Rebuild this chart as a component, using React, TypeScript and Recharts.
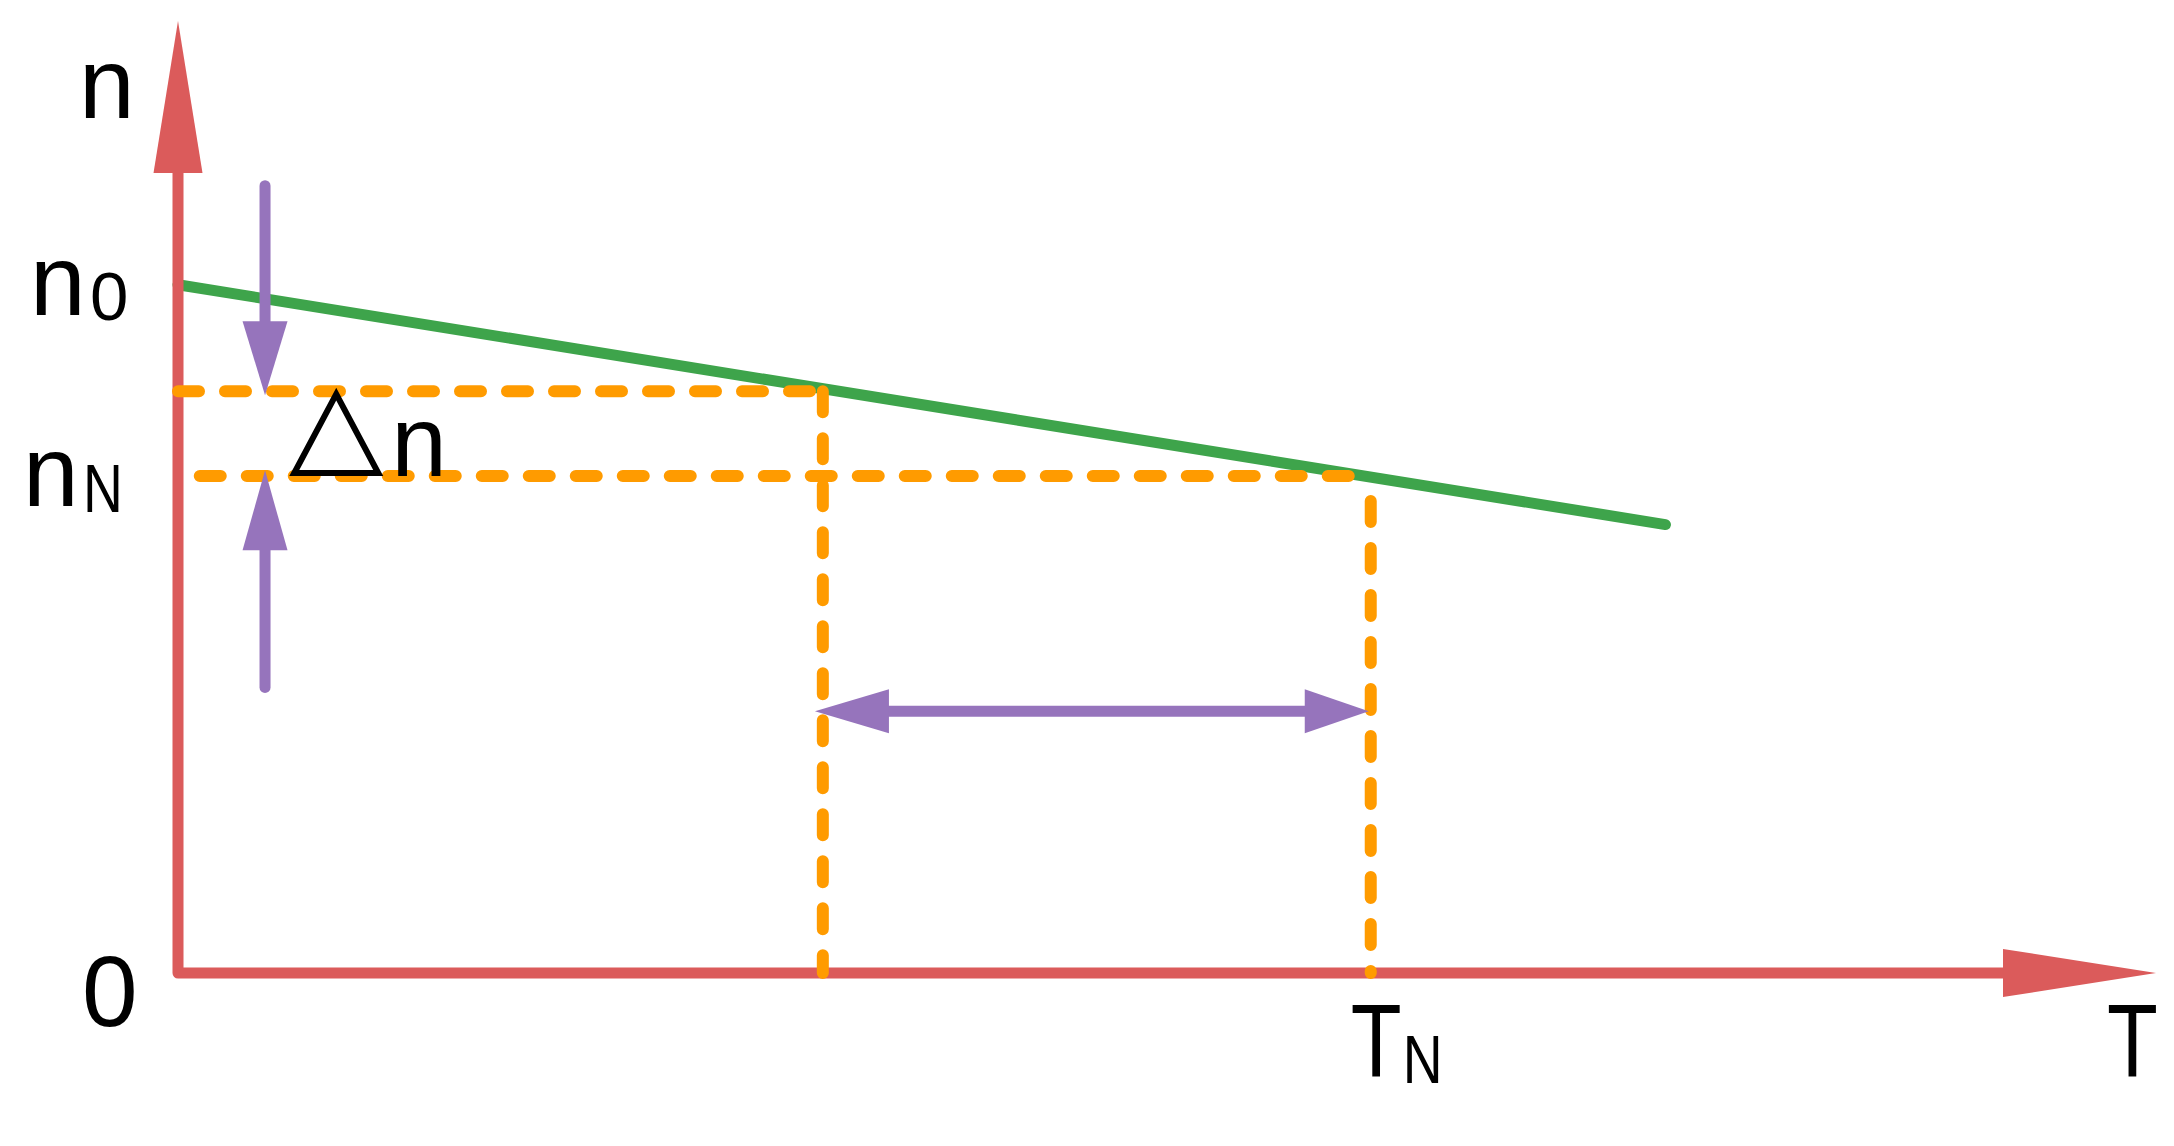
import { ComposedChart, Line, XAxis, YAxis, ReferenceDot } from "recharts";

// speed n against torque T, both in arbitrary units (0..100)
const axisTipT = 100;
const axisTipN = 100;
const axisShaftEnd = [93, 86]; // T, n where the axis shafts disappear under the heads

const curveT = [0, 75.2];
const curveN = [72.3, 47.1];

const guideT = [32.6, 60.3]; // T1, TN
const guideN = [61.1, 52.2]; // n1, nN
const guideStartT = [0, 1.1];
const guideEndT = [33.2, 60.3];

const dnArrowT = 4.4;
const dnTopN = [82.7, 67.5, 60.7]; // tail, shaft end, tip
const dnBottomN = [30.0, 45.2, 52.8];
const spanN = 27.5;
const spanT = [32.2, 35, 58, 60.2]; // left tip, shaft start, shaft end, right tip

const yTickValues = [0, 52.2, 72.3];
const yTickMain = ["0", "n", "n"];
const yTickSub = ["", "N", "0"];
const xTickValues = [60.3];
const xTickMain = ["T"];
const xTickSub = ["N"];
const axisNames = ["T", "n"];
const deltaT = 8.0;

const RED = "#db5b5b";
const GREEN = "#3ea44b";
const ORANGE = "#ff9b00";
const PURPLE = "#9674bc";
const FONT = "Liberation Sans, Arial, sans-serif";

const pts = (ts: number[], ns: number[]) => ts.map((T, i) => ({ T, n: ns[i] }));

type Dir = "up" | "down" | "left" | "right";

// eslint-disable-next-line @typescript-eslint/no-explicit-any
const arrowHead = (dir: Dir, len: number, w: number, fill: string) => (p: any) => {
  const { cx, cy } = p;
  const h = w / 2;
  let q: number[][];
  if (dir === "up") q = [[cx, cy], [cx - h, cy + len], [cx + h, cy + len]];
  else if (dir === "down") q = [[cx, cy], [cx - h, cy - len], [cx + h, cy - len]];
  else if (dir === "right") q = [[cx, cy], [cx - len, cy - h], [cx - len, cy + h]];
  else q = [[cx, cy], [cx + len, cy - h], [cx + len, cy + h]];
  return <polygon points={q.map((a) => a.join(",")).join(" ")} fill={fill} />;
};

// compressed glyphs (T, N) look narrower in the original
const Narrow = ({ x, y, size, children }: { x: number; y: number; size: number; children: string }) => (
  <text transform={`translate(${x},${y}) scale(0.8,1)`} x={0} y={0} fontSize={size} fontFamily={FONT} fill="#000">
    {children}
  </text>
);

// eslint-disable-next-line @typescript-eslint/no-explicit-any
const YTick = (props: any) => {
  const { x, y, payload } = props;
  const i = yTickValues.indexOf(payload.value);
  if (i < 0) return null;
  const main = yTickMain[i];
  const sub = yTickSub[i];
  if (!sub) {
    return (
      <text x={x - 96} y={y + 53} fontSize={100} fontFamily={FONT} fill="#000">
        {main}
      </text>
    );
  }
  const isN = sub === "N";
  return (
    <g>
      <text x={x - (isN ? 155 : 148)} y={y + 30} fontSize={100} fontFamily={FONT} fill="#000">
        {main}
      </text>
      {isN ? (
        <Narrow x={x - 95} y={y + 36} size={69}>{sub}</Narrow>
      ) : (
        <text x={x - 88} y={y + 35} fontSize={69} fontFamily={FONT} fill="#000">
          {sub}
        </text>
      )}
    </g>
  );
};

// eslint-disable-next-line @typescript-eslint/no-explicit-any
const XTick = (props: any) => {
  const { x, y, payload } = props;
  const i = xTickValues.indexOf(payload.value);
  if (i < 0) return null;
  return (
    <g>
      <Narrow x={x - 20} y={y + 104} size={104}>{xTickMain[i]}</Narrow>
      <Narrow x={x + 32} y={y + 110} size={69}>{xTickSub[i]}</Narrow>
    </g>
  );
};

// eslint-disable-next-line @typescript-eslint/no-explicit-any
const TName = (p: any) => <Narrow x={p.cx - 49} y={p.cy + 104} size={104}>{axisNames[0]}</Narrow>;

// eslint-disable-next-line @typescript-eslint/no-explicit-any
const NName = (p: any) => (
  <text x={p.cx - 99} y={p.cy + 97} fontSize={100} fontFamily={FONT} fill="#000">
    {axisNames[1]}
  </text>
);

// eslint-disable-next-line @typescript-eslint/no-explicit-any
const DeltaN = (p: any) => {
  const { cx, cy } = p;
  return (
    <g>
      <polygon
        points={`${cx},${cy - 82} ${cx - 42},${cy - 3} ${cx + 42},${cy - 3}`}
        fill="none"
        stroke="#000"
        strokeWidth={6}
        strokeLinejoin="miter"
      />
      <text x={cx + 55} y={cy} fontSize={100} fontFamily={FONT} fill="#000">
        n
      </text>
    </g>
  );
};

const common = {
  dataKey: "n",
  dot: false,
  activeDot: false,
  isAnimationActive: false,
  type: "linear" as const,
  legendType: "none" as const,
  strokeLinecap: "round" as const,
};

export default function App() {
  const [T1, TN] = guideT;
  const [n1, nN] = guideN;

  return (
    <div style={{ position: "absolute", left: 0, top: 0, width: 2174, height: 1146, background: "#fff" }}>
      <ComposedChart width={2174} height={1146} margin={{ top: 21, right: 18, bottom: 0, left: 0 }}>
        <XAxis
          type="number"
          dataKey="T"
          domain={[0, axisTipT]}
          ticks={xTickValues}
          interval={0}
          axisLine={false}
          tickLine={false}
          tickSize={0}
          tickMargin={0}
          height={173}
          tick={<XTick />}
        />
        <YAxis
          type="number"
          dataKey="n"
          domain={[0, axisTipN]}
          ticks={yTickValues}
          interval={0}
          axisLine={false}
          tickLine={false}
          tickSize={0}
          tickMargin={0}
          width={178}
          tick={<YTick />}
        />

        {/* characteristic */}
        <Line {...common} data={pts(curveT, curveN)} stroke={GREEN} strokeWidth={11} />

        {/* axes */}
        <Line
          {...common}
          data={pts([0, 0, axisShaftEnd[0]], [axisShaftEnd[1], 0, 0])}
          stroke={RED}
          strokeWidth={11}
          strokeLinejoin="round"
        />
        <ReferenceDot x={0} y={axisTipN} r={0} ifOverflow="visible" shape={arrowHead("up", 152, 49, RED)} />
        <ReferenceDot x={axisTipT} y={0} r={0} ifOverflow="visible" shape={arrowHead("right", 153, 48, RED)} />

        {/* delta-n arrows */}
        <Line {...common} data={pts([dnArrowT, dnArrowT], dnTopN.slice(0, 2))} stroke={PURPLE} strokeWidth={11} />
        <ReferenceDot x={dnArrowT} y={dnTopN[2]} r={0} shape={arrowHead("down", 74, 45, PURPLE)} />
        <Line {...common} data={pts([dnArrowT, dnArrowT], dnBottomN.slice(0, 2))} stroke={PURPLE} strokeWidth={11} />
        <ReferenceDot x={dnArrowT} y={dnBottomN[2]} r={0} shape={arrowHead("up", 80, 45, PURPLE)} />

        {/* T1..TN span arrow */}
        <Line {...common} data={pts(spanT.slice(1, 3), [spanN, spanN])} stroke={PURPLE} strokeWidth={11} strokeLinecap="butt" />
        <ReferenceDot x={spanT[0]} y={spanN} r={0} shape={arrowHead("left", 74, 44, PURPLE)} />
        <ReferenceDot x={spanT[3]} y={spanN} r={0} shape={arrowHead("right", 64, 44, PURPLE)} />

        {/* dashed guides */}
        <Line {...common} data={pts([guideStartT[0], guideEndT[0]], [n1, n1])} stroke={ORANGE} strokeWidth={12} strokeDasharray="21 26" />
        <Line {...common} data={pts([T1, T1], [n1, 0])} stroke={ORANGE} strokeWidth={12} strokeDasharray="21 26" />
        <Line {...common} data={pts([guideStartT[1], guideEndT[1]], [nN, nN])} stroke={ORANGE} strokeWidth={12} strokeDasharray="21 26" />
        <Line {...common} data={pts([TN, TN], [nN, 0])} stroke={ORANGE} strokeWidth={12} strokeDasharray="21 26" strokeDashoffset={22} />

        {/* labels */}
        <ReferenceDot x={deltaT} y={nN} r={0} shape={DeltaN} />
        <ReferenceDot x={axisTipT} y={0} r={0} ifOverflow="visible" shape={TName} />
        <ReferenceDot x={0} y={axisTipN} r={0} ifOverflow="visible" shape={NName} />
      </ComposedChart>
    </div>
  );
}
